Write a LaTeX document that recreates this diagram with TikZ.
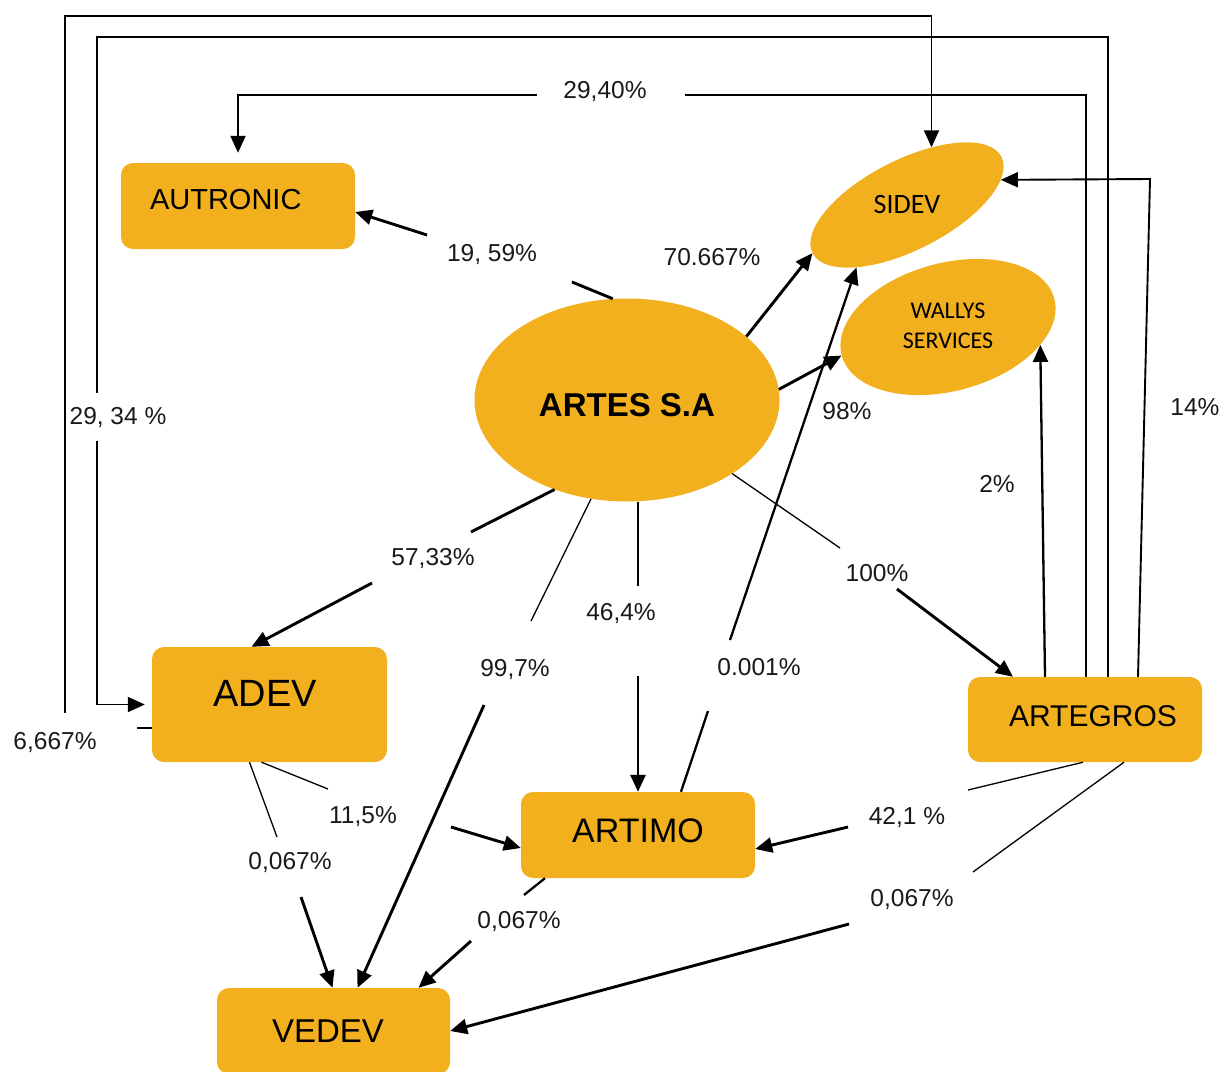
\documentclass[tikz,border=0pt]{standalone}
\usepackage{fontspec}
\setmainfont{Liberation Sans}
\newfontfamily\calib{Carlito}
\usetikzlibrary{arrows.meta,shapes.geometric,calc}
\definecolor{boxfill}{RGB}{243,176,30}
\begin{document}
\begin{tikzpicture}[x=1pt,y=-1pt,
  box/.style={rectangle, rounded corners=12pt, fill=boxfill, inner sep=0pt, text=black},
  oval/.style={ellipse, fill=boxfill, inner sep=0pt, text=black},
  lbl/.style={font=\fontsize{24.5}{28}\selectfont, inner sep=0pt, text=black!90, text height=17.5pt, text depth=0pt},
  heavy/.style={line width=2.9pt, black},
  midline/.style={line width=2.3pt, black},
  fine/.style={line width=1.3pt, black},
  frameline/.style={line width=1.9pt, black},
  arr/.style={-{Triangle[length=17pt,width=15pt]}}
]
\clip (0,0) rectangle (1223,1071);

% ---- nodes ----
\node[box, minimum width=234pt, minimum height=86pt, text width=176pt, align=left, inner xsep=29pt,
      font=\fontsize{29}{32}\selectfont, text height=18.8pt, text depth=12pt] (autronic) at (238,206) {AUTRONIC};
\node[box, minimum width=235pt, minimum height=115pt, font=\fontsize{38}{40}\selectfont,
      text height=24.2pt, text depth=20pt] (adev) at (269.5,704.5) {ADEV\kern9pt};
\node[box, minimum width=234pt, minimum height=86pt, font=\fontsize{34}{36}\selectfont,
      text height=22.3pt, text depth=8pt] (artimo) at (638,835) {ARTIMO};
\node[box, minimum width=234pt, minimum height=85pt, font=\fontsize{30}{32}\selectfont,
      text height=19.5pt, text depth=5pt] (artegros) at (1085,719.5) {\kern16pt ARTEGROS};
\node[box, minimum width=233pt, minimum height=86pt, font=\fontsize{33}{36}\selectfont,
      text height=23.6pt, text depth=0pt] (vedev) at (333.5,1031) {VEDEV\kern11pt};
\node[oval, minimum width=305pt, minimum height=203pt, font=\bfseries\fontsize{33}{36}\selectfont,
      text height=33.6pt, text depth=0pt] (artes) at (627,400) {ARTES S.A};
\node[oval, minimum width=212pt, minimum height=90pt, rotate=27,
      font=\calib\fontsize{28}{30}\selectfont] (sidev) at (907,205) {\rotatebox{-27}{SIDEV}};
\node[oval, minimum width=220pt, minimum height=128pt, rotate=15,
      font=\calib\fontsize{24}{30}\selectfont] (wallys) at (948,327)
      {\rotatebox{-15}{\begin{tabular}{@{}c@{}}WALLYS\\SERVICES\end{tabular}}};

% ---- labels ----
\node[lbl] (l2940) at (605,90) {29,40\%};
\node[lbl] (l1959) at (492,253) {19, 59\%};
\node[lbl] (l70667) at (712,257) {70.667\%};
\node[lbl] (l2934) at (118,416) {29, 34 \%};
\node[lbl] (l98) at (847,411) {98\%};
\node[lbl] (l14) at (1195,407) {14\%};
\node[lbl] (l2) at (997,484) {2\%};
\node[lbl] (l5733) at (433,557) {57,33\%};
\node[lbl] (l100) at (877,573) {100\%};
\node[lbl] (l464) at (621,612) {46,4\%};
\node[lbl] (l997) at (515,668) {99,7\%};
\node[lbl] (l0001) at (759,667) {0.001\%};
\node[lbl] (l6667) at (55,741) {6,667\%};
\node[lbl] (l115) at (363,815) {11,5\%};
\node[lbl] (l421) at (907,816) {42,1 \%};
\node[lbl] (l067a) at (290,861) {0,067\%};
\node[lbl] (l067b) at (519,920) {0,067\%};
\node[lbl] (l067c) at (912,898) {0,067\%};

% ---- gap coordinates ----
\coordinate (c1a) at (572,282);  \coordinate (c1b) at (427,235);
\coordinate (c4a) at (708,711);  \coordinate (c4b) at (730,640);
\coordinate (c5a) at (840,548);  \coordinate (c5b) at (897,589);
\coordinate (c6a) at (638,586);  \coordinate (c6b) at (638,676);
\coordinate (c7a) at (531,621);  \coordinate (c7b) at (484,705);
\coordinate (c8a) at (471,532);  \coordinate (c8b) at (372,583);
\coordinate (c9a) at (328,789);  \coordinate (c9b) at (451,827);
\coordinate (c10a) at (277,837); \coordinate (c10b) at (301,897);
\coordinate (c11a) at (524,895); \coordinate (c11b) at (471,941);
\coordinate (c12a) at (968,790); \coordinate (c12b) at (848,827);
\coordinate (c13a) at (973,872); \coordinate (c13b) at (849,924);
\coordinate (c15a) at (685,95);  \coordinate (c15b) at (537,95);
\coordinate (c16a) at (97,37);   \coordinate (c16b) at (97,393);  \coordinate (c16c) at (97,441);
\coordinate (c17a) at (137,728); \coordinate (c17b) at (65,713);  \coordinate (c17c) at (65,16);
\coordinate (c18) at (1150,179);

% ---- connectors ----
% ARTES -> AUTRONIC 19,59%
\draw[heavy] (artes.98) -- (c1a);
\draw[heavy,arr] (c1b) -- ([yshift=-6pt]autronic.east);
% ARTES -> SIDEV 70.667%
\draw[heavy,arr] (artes.28) -- (sidev.west);
% ARTES -> WALLYS 98%
\draw[heavy,arr] (artes.4) -- (wallys.west);
% ARTIMO -> SIDEV 0.001%
\draw[midline] ([xshift=43pt]artimo.north) -- (c4a);
\draw[midline,arr] (c4b) -- (sidev.204);
% ARTES -> ARTEGROS 100%
\draw[fine] (artes.325) -- (c5a);
\draw[heavy,arr] (c5b) -- ([xshift=-72pt]artegros.north);
% ARTES -> ARTIMO 46,4%
\draw[fine] ([xshift=11pt]artes.south) -- (c6a);
\draw[heavy,arr] (c6b) -- (artimo.north);
% ARTES -> VEDEV 99,7%
\draw[fine] (artes.250) -- (c7a);
\draw[heavy,arr] (c7b) -- ([xshift=24pt]vedev.north);
% ARTES -> ADEV 57,33%
\draw[heavy] (artes.231) -- (c8a);
\draw[heavy,arr] (c8b) -- ([xshift=-18pt]adev.north);
% ADEV -> ARTIMO 11,5%
\draw[fine] ([xshift=-8pt]adev.south) -- (c9a);
\draw[heavy,arr] (c9b) -- ([yshift=-13pt]artimo.west);
% ADEV -> VEDEV 0,067%
\draw[fine] ([xshift=-20pt]adev.south) -- (c10a);
\draw[heavy,arr] (c10b) -- ([xshift=-1pt]vedev.north);
% ARTIMO -> VEDEV 0,067%
\draw[midline] ([xshift=-93pt]artimo.south) -- (c11a);
\draw[heavy,arr] (c11b) -- ([xshift=85pt]vedev.north);
% ARTEGROS -> ARTIMO 42,1 %
\draw[fine] ([xshift=-2pt]artegros.south) -- (c12a);
\draw[heavy,arr] (c12b) -- ([yshift=-14pt]artimo.east);
% ARTEGROS -> VEDEV 0,067%
\draw[fine] ([xshift=39pt]artegros.south) -- (c13a);
\draw[heavy,arr] (c13b) -- (vedev.east);
% ARTEGROS -> WALLYS 2%
\draw[midline,arr] ([xshift=-40pt]artegros.north) -- (wallys.334);
% ARTEGROS -> AUTRONIC 29,40%
\draw[frameline] ([xshift=1pt]artegros.north) |- (c15a);
\draw[frameline,arr,shorten >=10pt] (c15b) -| (autronic.north);
% ARTEGROS -> ADEV 29,34%
\draw[frameline] ([xshift=23pt]artegros.north) |- (c16a) -- (c16b);
\draw[frameline,arr,shorten >=7pt] (c16c) |- (adev.west);
% ADEV -> SIDEV 6,667%
\draw[fine] ([yshift=-23.5pt]adev.west) -- (c17a);
\draw[frameline,arr] (c17b) -- (c17c) -| (sidev.40);
% ARTEGROS -> SIDEV 14%
\draw[frameline,arr] ([xshift=53pt]artegros.north) -- (c18) -- (sidev.348);
\end{tikzpicture}
\end{document}
